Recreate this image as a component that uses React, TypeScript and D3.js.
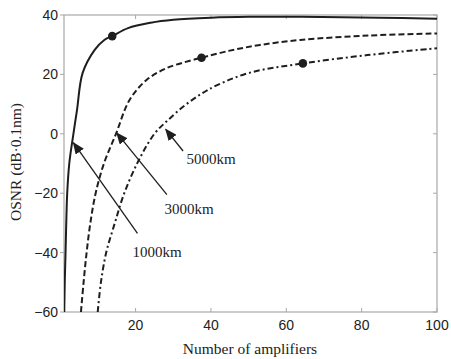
import React from 'react'
import * as d3 from 'd3'

// values (N amplifiers, OSNR dB)
const xTicks = [20, 40, 60, 80, 100]
const yTicks = [-60, -40, -20, 0, 20, 40]

const km1000: [number, number][] = [
  [1.07, -60], [1.2, -50], [1.41, -40], [1.6, -30], [1.85, -20], [2.4, -10], [3.5, 0],
  [4.45, 8], [5.95, 20.5], [9.1, 28.2], [11.7, 31.6], [13.8, 32.9], [18, 35.6], [24, 37.4],
  [30, 38.4], [40, 39.1], [50, 39.4], [64, 39.4], [85, 39.1], [100, 38.7],
]
const km3000: [number, number][] = [
  [5.5, -60], [6.2, -50], [7, -40], [8, -30], [9.4, -20], [11.6, -10], [14.8, 0],
  [18.4, 11.4], [22.9, 18.1], [28.2, 22.1], [34.4, 24.6], [37.5, 25.6], [45, 28],
  [53, 29.9], [63.7, 31.6], [82, 33.1], [100, 33.8],
]
const km5000: [number, number][] = [
  [9.95, -60], [10.8, -50], [12.2, -40], [14.5, -30], [17, -20], [20.8, -9], [25, 0],
  [28.5, 4.5], [33, 9.5], [37.5, 13.5], [41.5, 16.3], [50.4, 20.6], [64.4, 23.7],
  [81.5, 26.5], [100, 28.8],
]
const markers: [number, number][] = [[13.8, 32.9], [37.5, 25.6], [64.4, 23.7]]

const series = [
  { name: '1000km', data: km1000, dash: 'none' },
  { name: '3000km', data: km3000, dash: '6,3' },
  { name: '5000km', data: km5000, dash: '6,3,2,3' },
]

// label text position, arrow start and arrow tip (in data units)
const callouts = [
  { text: '1000km', at: [19.2, -41.5], from: [20.5, -33.5], to: [3.5, -3] },
  { text: '3000km', at: [27.7, -27], from: [28.3, -20.5], to: [15, 0.3] },
  { text: '5000km', at: [33.5, -10], from: [32.6, -5.8], to: [28, 1.5] },
]

const W = 451
const H = 359
const m = { l: 64, r: 14, t: 15, b: 47 }

export default function App() {
  const x = d3.scaleLinear().domain([1, 100]).range([m.l, W - m.r])
  const y = d3.scaleLinear().domain([-60, 40]).range([H - m.b, m.t])
  const line = d3.line<[number, number]>().x(d => x(d[0])).y(d => y(d[1])).curve(d3.curveCatmullRom.alpha(0.5))
  const axisCol = '#a8a8a8'
  const ink = '#1e1e1e'
  const sans = 'Liberation Sans, Arial, sans-serif'
  const serif = 'Liberation Serif, Times New Roman, serif'

  return (
    <div style={{ position: 'fixed', left: 0, top: 0 }}>
      <svg width={W} height={H} style={{ background: '#fff', display: 'block' }}>
        <defs>
          <clipPath id="plot">
            <rect x={m.l} y={m.t} width={W - m.l - m.r} height={H - m.t - m.b} />
          </clipPath>
          <marker id="head" viewBox="0 0 12 10" refX="11" refY="5" markerWidth="12" markerHeight="10" markerUnits="userSpaceOnUse" orient="auto">
            <path d="M0,0 L12,5 L0,10 z" fill={ink} />
          </marker>
        </defs>

        {/* frame and ticks */}
        <rect x={m.l} y={m.t} width={W - m.l - m.r} height={H - m.t - m.b} fill="none" stroke={axisCol} strokeWidth={1.2} />
        {xTicks.map(t => (
          <g key={'x' + t}>
            <line x1={x(t)} x2={x(t)} y1={y(-60)} y2={y(-60) - 4} stroke={axisCol} />
            <line x1={x(t)} x2={x(t)} y1={y(40)} y2={y(40) + 4} stroke={axisCol} />
            <text x={x(t)} y={330} textAnchor="middle" fontFamily={sans} fontSize={14} fill="#222">{t}</text>
          </g>
        ))}
        {yTicks.map(t => (
          <g key={'y' + t}>
            <line x1={m.l - 4} x2={m.l} y1={y(t)} y2={y(t)} stroke={axisCol} />
            <line x1={W - m.r - 4} x2={W - m.r} y1={y(t)} y2={y(t)} stroke={axisCol} />
            <text x={m.l - 6} y={y(t) + 5} textAnchor="end" fontFamily={sans} fontSize={14} fill="#222">
              {t < 0 ? '\u2212' + Math.abs(t) : t}
            </text>
          </g>
        ))}

        {/* curves */}
        <g clipPath="url(#plot)">
          {series.map(s => (
            <path key={s.name} d={line(s.data) || ''} fill="none" stroke={ink} strokeWidth={2} strokeDasharray={s.dash} />
          ))}
        </g>
        {markers.map((p, i) => (
          <circle key={i} cx={x(p[0])} cy={y(p[1])} r={4.3} fill={ink} />
        ))}

        {/* callouts */}
        {callouts.map(c => (
          <g key={c.text}>
            <line x1={x(c.from[0])} y1={y(c.from[1])} x2={x(c.to[0])} y2={y(c.to[1])} stroke={ink} strokeWidth={1.3} markerEnd="url(#head)" />
            <text x={x(c.at[0])} y={y(c.at[1])} fontFamily={serif} fontSize={15} fill="#222">{c.text}</text>
          </g>
        ))}

        {/* axis titles */}
        <text x={250} y={354} textAnchor="middle" fontFamily={serif} fontSize={15.5} fill="#222">Number of amplifiers</text>
        <text transform="translate(21,162) rotate(-90)" textAnchor="middle" fontFamily={serif} fontSize={15.5} fill="#222">OSNR (dB·0.1nm)</text>
      </svg>
    </div>
  )
}
